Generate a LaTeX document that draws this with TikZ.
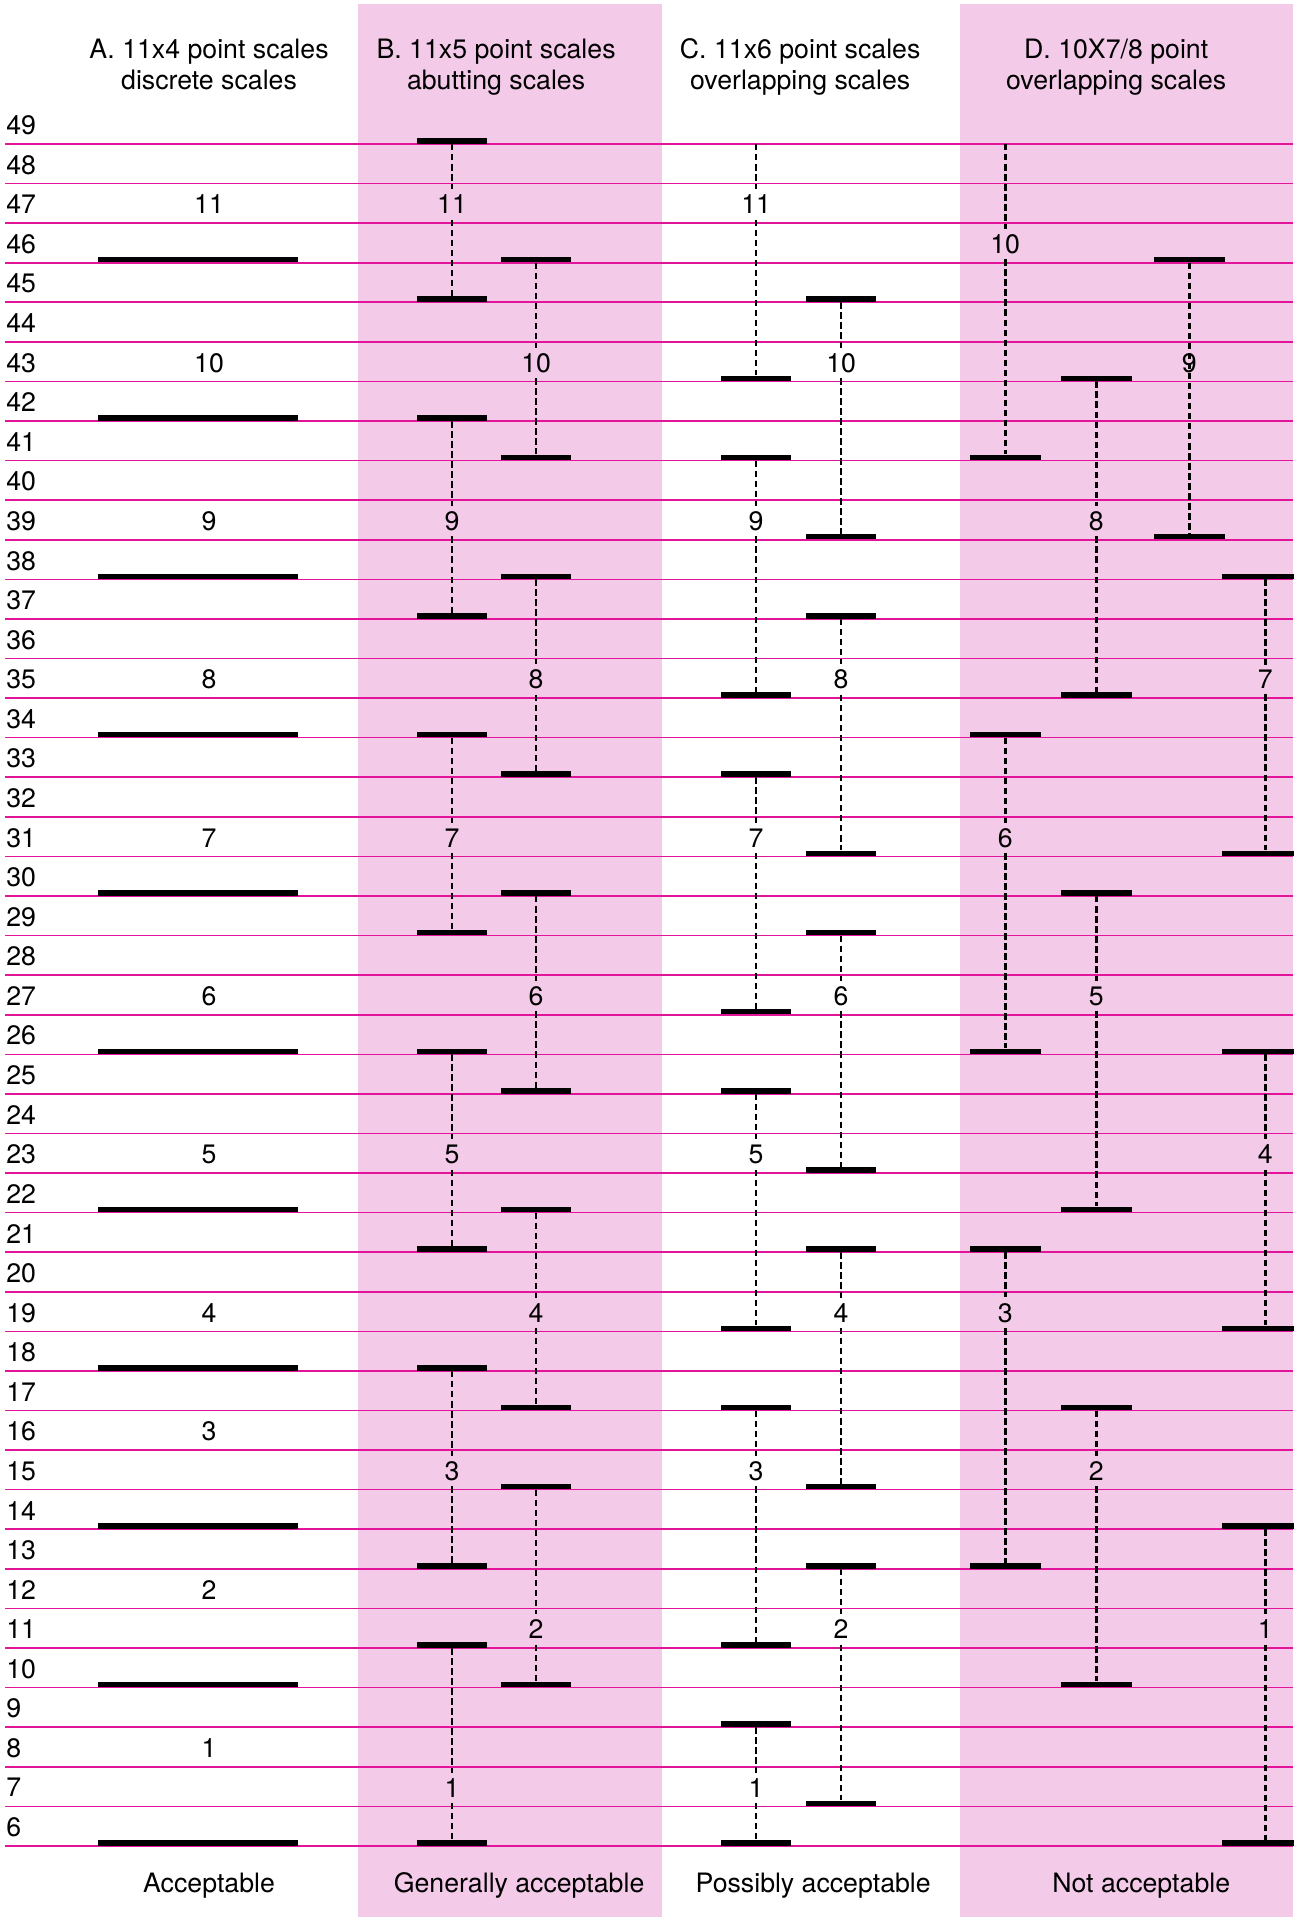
\documentclass[tikz,border=0pt]{standalone}
\usepackage{fontspec}
\setmainfont{TeX Gyre Heros}
\definecolor{bandpink}{HTML}{F4CAE9}
\definecolor{rulemagenta}{HTML}{E2149A}
\tikzset{
  rule/.style={rulemagenta, line width=0.9pt},
  band/.style={fill=bandpink, draw=none},
  bar/.style={fill=black, inner sep=0pt, minimum height=3.1pt, minimum width=1.4cm, anchor=south},
  widebar/.style={bar, minimum width=4cm},
  rangeline/.style={dash pattern=on 3.7pt off 2pt, line width=1.5pt},
  num/.style={font=\fontsize{15.2}{18}\selectfont, inner sep=3pt},
  rownum/.style={num, anchor=west, inner sep=0pt},
  head/.style={font=\fontsize{15.2}{17.6}\selectfont, align=center, anchor=north, inner sep=0pt},
}

\begin{document}
\begin{tikzpicture}[x=0.02cm, y=0.7916cm]
  \useasboundingbox (0,4.204) rectangle (1293,52.638);

  % ---- shaded columns and rules ----
  \fill[band] (358,4.204) rectangle (662,52.537);
  \fill[band] (960,4.204) rectangle (1293,52.537);
  \foreach \v in {6,...,49} {
    \draw[rule] (5,\v) -- (1293,\v);
    \node[rownum] (row-\v) at (6,\v+0.47) {\v};
  }

  % ---- headings ----
  \node[head] (head-a) at (209,51.67) {A. 11x4 point scales\\discrete scales};
  \node[head] (head-b) at (496,51.67) {B. 11x5 point scales\\abutting scales};
  \node[head] (head-c) at (800,51.67) {C. 11x6 point scales\\overlapping scales};
  \node[head] (head-d) at (1116,51.67) {D. 10X7/8 point\\overlapping scales};

  % ---- A: discrete scales ----
  \foreach \dn/\rw/\lbl in {46/47/11, 42/43/10, 38/39/9, 34/35/8, 30/31/7, 26/27/6,
                            22/23/5, 18/19/4, 14/16/3, 10/12/2, 6/8/1} {
    \node[widebar] (a-bar\lbl) at (198,\dn) {};
    \node[num] (a-lab\lbl) at (209,\rw+0.47) {\lbl};
  }

  % ---- B: abutting scales ----
  \foreach \up/\dn/\rw/\lbl in {49/45/47/11, 42/37/39/9, 34/29/31/7, 26/21/23/5, 18/13/15/3, 11/6/7/1} {
    \node[bar] (b1-top\lbl) at (452,\up) {};
    \node[bar] (b1-bot\lbl) at (452,\dn) {};
    \node[num] (b1-lab\lbl) at (452,\rw+0.47) {\lbl};
    \draw[rangeline] (b1-top\lbl) -- (b1-lab\lbl) -- (b1-bot\lbl);
  }
  \foreach \up/\dn/\rw/\lbl in {46/41/43/10, 38/33/35/8, 30/25/27/6, 22/17/19/4, 15/10/11/2} {
    \node[bar] (b2-top\lbl) at (536,\up) {};
    \node[bar] (b2-bot\lbl) at (536,\dn) {};
    \node[num] (b2-lab\lbl) at (536,\rw+0.47) {\lbl};
    \draw[rangeline] (b2-top\lbl) -- (b2-lab\lbl) -- (b2-bot\lbl);
  }

  % ---- C: overlapping scales ----
  \coordinate (c1-top11) at (756,49);
  \node[bar] (c1-bot11) at (756,43) {};
  \node[num] (c1-lab11) at (756,47.47) {11};
  \draw[rangeline] (c1-top11) -- (c1-lab11) -- (c1-bot11);
  \foreach \up/\dn/\rw/\lbl in {41/35/39/9, 33/27/31/7, 25/19/23/5, 17/11/15/3, 9/6/7/1} {
    \node[bar] (c1-top\lbl) at (756,\up) {};
    \node[bar] (c1-bot\lbl) at (756,\dn) {};
    \node[num] (c1-lab\lbl) at (756,\rw+0.47) {\lbl};
    \draw[rangeline] (c1-top\lbl) -- (c1-lab\lbl) -- (c1-bot\lbl);
  }
  \foreach \up/\dn/\rw/\lbl in {45/39/43/10, 37/31/35/8, 29/23/27/6, 21/15/19/4, 13/7/11/2} {
    \node[bar] (c2-top\lbl) at (841,\up) {};
    \node[bar] (c2-bot\lbl) at (841,\dn) {};
    \node[num] (c2-lab\lbl) at (841,\rw+0.47) {\lbl};
    \draw[rangeline] (c2-top\lbl) -- (c2-lab\lbl) -- (c2-bot\lbl);
  }

  % ---- D: 10x7/8 point ----
  \coordinate (d1-top10) at (1005,49);
  \node[bar, minimum width=1.42cm] (d1-bot10) at (1005,41) {};
  \node[num] (d1-lab10) at (1005,46.47) {10};
  \draw[rangeline] (d1-top10) -- (d1-lab10) -- (d1-bot10);
  \foreach \up/\dn/\rw/\lbl in {34/26/31/6, 21/13/19/3} {
    \node[bar, minimum width=1.42cm] (d1-top\lbl) at (1005,\up) {};
    \node[bar, minimum width=1.42cm] (d1-bot\lbl) at (1005,\dn) {};
    \node[num] (d1-lab\lbl) at (1005,\rw+0.47) {\lbl};
    \draw[rangeline] (d1-top\lbl) -- (d1-lab\lbl) -- (d1-bot\lbl);
  }
  \foreach \up/\dn/\rw/\lbl in {43/35/39/8, 30/22/27/5, 17/10/15/2} {
    \node[bar, minimum width=1.42cm] (d2-top\lbl) at (1096,\up) {};
    \node[bar, minimum width=1.42cm] (d2-bot\lbl) at (1096,\dn) {};
    \node[num] (d2-lab\lbl) at (1096,\rw+0.47) {\lbl};
    \draw[rangeline] (d2-top\lbl) -- (d2-lab\lbl) -- (d2-bot\lbl);
  }
  \node[bar, minimum width=1.42cm] (d3-top9) at (1189,46) {};
  \node[bar, minimum width=1.42cm] (d3-bot9) at (1189,39) {};
  \draw[rangeline] (d3-top9) -- (d3-bot9);
  \node[num] (d3-lab9) at (1189,43.47) {9};
  \foreach \up/\dn/\rw/\lbl in {38/31/35/7, 26/19/23/4, 14/6/11/1} {
    \node[bar, minimum width=1.72cm] (d4-top\lbl) at (1265,\up) {};
    \node[bar, minimum width=1.72cm] (d4-bot\lbl) at (1265,\dn) {};
    \node[num] (d4-lab\lbl) at (1265,\rw+0.47) {\lbl};
    \draw[rangeline] (d4-top\lbl) -- (d4-lab\lbl) -- (d4-bot\lbl);
  }

  % ---- verdicts ----
  \node[num] (ok-a) at (209,5.0) {Acceptable};
  \node[num] (ok-b) at (519,5.0) {Generally acceptable};
  \node[num] (ok-c) at (813,5.0) {Possibly acceptable};
  \node[num] (ok-d) at (1141,5.0) {Not acceptable};
\end{tikzpicture}
\end{document}
